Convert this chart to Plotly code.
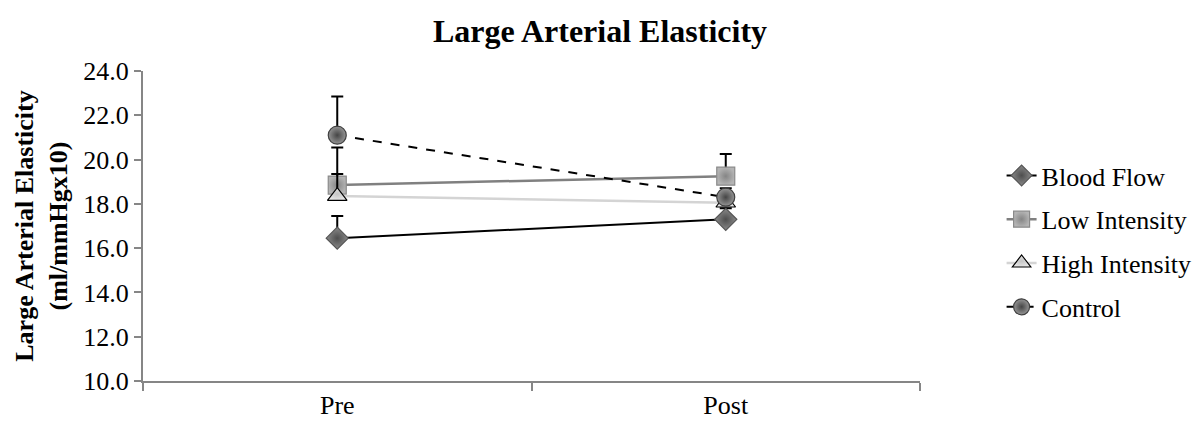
import plotly.graph_objects as go

categories = ["Pre", "Post"]
series_names = ["Blood Flow", "Low Intensity", "High Intensity", "Control"]
blood_flow = [16.45, 17.3]
low_intensity = [18.85, 19.25]
high_intensity = [18.35, 18.05]
control = [21.1, 18.3]
blood_flow_err = [1.0, 0.5]
low_intensity_err = [1.7, 1.0]
high_intensity_err = [1.0, 0.4]
control_err = [1.75, 0.4]
y_ticks = [10, 12, 14, 16, 18, 20, 22, 24]

FONT = "Liberation Serif, Times New Roman, serif"
FS = 26

styles = [
    dict(line=dict(color="#000000", width=2), symbol="diamond", size=17,
         mcolor="#8a8a8a", mline="#555555", gcolor="#4e4e4e"),
    dict(line=dict(color="#808080", width=2.5), symbol="square", size=18,
         mcolor="#b4b4b4", mline="#8a8a8a", gcolor="#858585"),
    dict(line=dict(color="#d4d4d4", width=2.5), symbol="triangle-up", size=17,
         mcolor="#e6e6e6", mline="#000000", gcolor="#c4c4c4"),
    dict(line=dict(color="#000000", width=2, dash="dash"), symbol="circle", size=18,
         mcolor="#959595", mline="#404040", gcolor="#454545"),
]
values = [blood_flow, low_intensity, high_intensity, control]
errors = [blood_flow_err, low_intensity_err, high_intensity_err, control_err]

fig = go.Figure()
for i, (name, vals, err, st) in enumerate(zip(series_names, values, errors, styles)):
    fig.add_trace(go.Scatter(
        x=categories, y=vals, name=name, mode="lines+markers",
        line=st["line"],
        marker=dict(symbol=st["symbol"], size=st["size"], color=st["mcolor"],
                    line=dict(color=st["mline"], width=1.2),
                    gradient=dict(type="radial", color=st["gcolor"])),
        error_y=dict(type="data", array=err, arrayminus=[0] * len(err),
                     symmetric=False, color="#000000", thickness=2, width=6),
        legendgroup=name,
    ))

fig.update_layout(
    width=1200, height=428,
    margin=dict(l=143, r=280, t=71, b=47, autoexpand=False),
    paper_bgcolor="white", plot_bgcolor="white",
    font=dict(family=FONT, size=FS, color="#000000"),
    title=dict(text="<b>Large Arterial Elasticity</b>", x=0.5, xanchor="center",
               y=1 - 31 / 428, yanchor="middle",
               font=dict(family=FONT, size=32, color="#000000")),
    showlegend=True,
    legend=dict(x=1.105, xanchor="left", y=0.45, yanchor="middle",
                font=dict(family=FONT, size=FS, color="#000000"),
                tracegroupgap=7, bgcolor="rgba(0,0,0,0)"),
)
fig.update_xaxes(
    type="category", range=[-0.5, 1.5], tickson="boundaries",
    showline=True, linecolor="#868686", linewidth=2,
    ticks="outside", ticklen=8, tickcolor="#868686", tickwidth=2,
    showgrid=False, zeroline=False,
    tickfont=dict(family=FONT, size=FS, color="#000000"),
)
fig.update_yaxes(
    range=[10, 24], tickvals=y_ticks, tickformat=".1f",
    showline=True, linecolor="#868686", linewidth=2,
    ticks="outside", ticklen=7, tickcolor="#868686", tickwidth=2,
    showgrid=False, zeroline=False,
    tickfont=dict(family=FONT, size=FS, color="#000000"),
    title=dict(text="<b>Large Arterial Elasticity<br>(ml/mmHgx10)</b>",
               font=dict(family=FONT, size=26, color="#000000"), standoff=8),
)

fig.write_html("out.html")
